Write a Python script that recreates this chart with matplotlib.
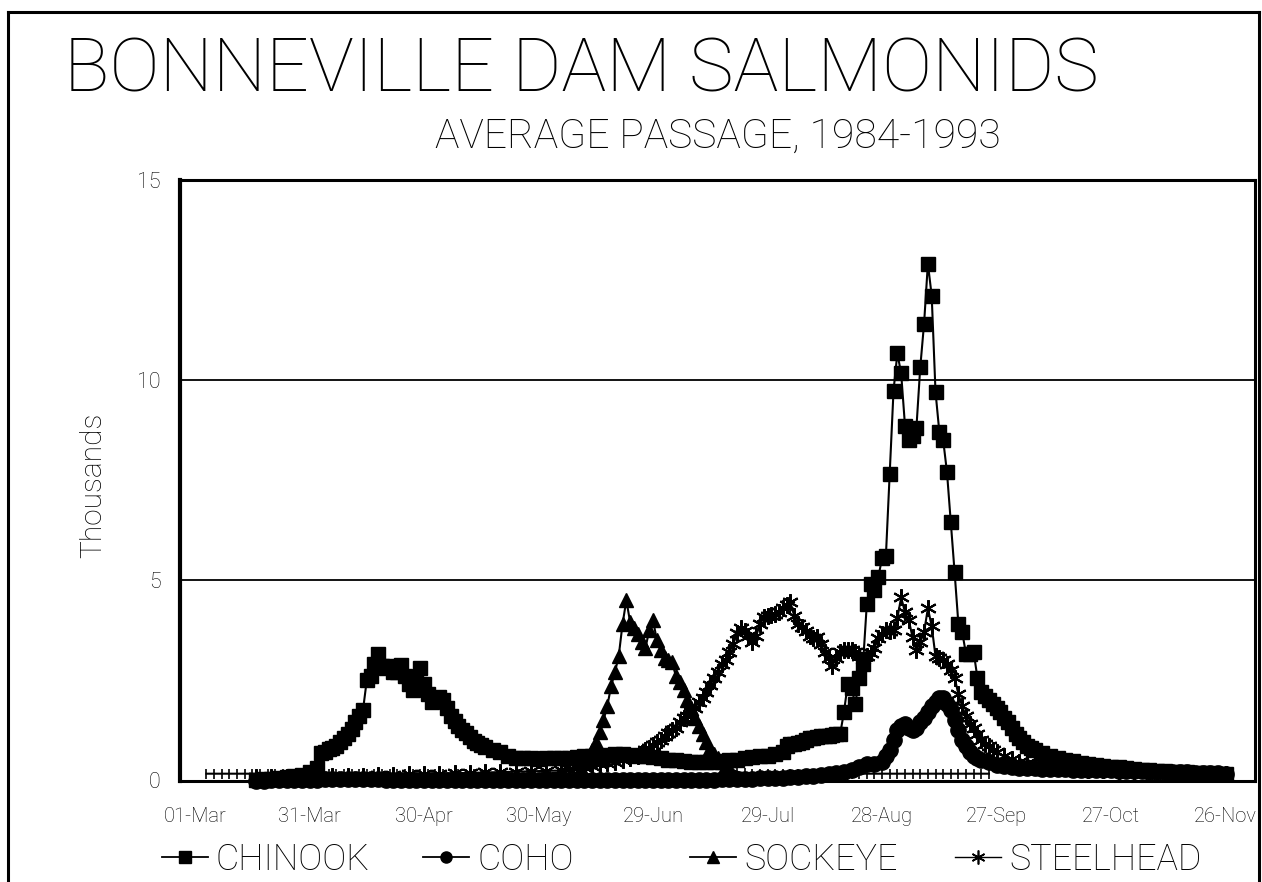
import matplotlib
matplotlib.use("Agg")
import matplotlib.pyplot as plt
from matplotlib.lines import Line2D

# ---------------- data (day 0 = 01-Mar) ----------------
tick_days = [0, 30, 60, 90, 120, 150, 180, 210, 240, 270]
tick_labels = ["01-Mar", "31-Mar", "30-Apr", "30-May", "29-Jun",
               "29-Jul", "28-Aug", "27-Sep", "27-Oct", "26-Nov"]

chinook = [(16,0.02),(18,0.03),(20,0.04),(22,0.06),(24,0.08),(26,0.1),(28,0.13),(30,0.2),
           (32,0.3),(33,0.68),(34,0.72),(35,0.78),(36,0.8),(37,0.85),(38,0.95),(39,1.05),
           (40,1.15),(41,1.28),(42,1.45),(43,1.6),(44,1.75),(45,2.5),(46,2.6),(47,2.9),
           (48,3.15),(49,2.85),(50,2.8),(51,2.85),(52,2.7),(53,2.72),(54,2.88),(55,2.6),
           (56,2.4),(57,2.25),(58,2.55),(59,2.8),(60,2.4),(61,2.15),(62,1.95),(63,2.0),
           (64,2.08),(65,2.0),(66,1.82),(67,1.62),(68,1.48),(69,1.37),(70,1.27),(71,1.18),
           (72,1.08),(73,0.98),(74,0.93),(75,0.88),(76,0.83),(78,0.77),(80,0.7),(82,0.62),
           (84,0.57),(86,0.55),(88,0.55),(90,0.54),(92,0.55),(94,0.55),(96,0.56),(98,0.57),
           (100,0.58),(102,0.6),(104,0.62),(106,0.62),(108,0.64),(110,0.65),(112,0.65),
           (114,0.63),(116,0.62),(118,0.6),(120,0.58),(122,0.55),(124,0.52),(126,0.5),
           (128,0.48),(130,0.46),(132,0.45),(134,0.45),(136,0.46),(138,0.48),(140,0.5),
           (142,0.52),(144,0.55),(146,0.58),(148,0.6),(150,0.62),(152,0.65),(154,0.7),
           (155,0.85),(156,0.9),(157,0.92),(158,0.93),(159,0.95),(160,1.0),(161,1.05),
           (162,1.07),(163,1.08),(164,1.1),(165,1.1),(166,1.12),(167,1.13),(168,1.15),
           (169,1.15),(170,1.7),(171,2.4),(172,2.3),(173,1.9),(174,2.57),(175,2.9),
           (176,4.4),(177,4.9),(178,4.75),(179,5.07),(180,5.55),(181,5.6),(182,7.66),
           (183,9.73),(184,10.66),(185,10.16),(186,8.86),(187,8.49),(188,8.6),(189,8.81),
           (190,10.31),(191,11.4),(192,12.9),(193,12.1),(194,9.7),(195,8.7),(196,8.5),
           (197,7.7),(198,6.45),(199,5.2),(200,3.9),(201,3.7),(202,3.15),(203,3.15),
           (204,3.2),(205,2.55),(206,2.2),(207,2.1),(208,2.0),(209,1.9),(210,1.8),
           (211,1.7),(212,1.55),(213,1.45),(214,1.3),(215,1.15),(216,1.05),(217,0.95),
           (218,0.87),(219,0.8),(220,0.75),(222,0.68),(224,0.62),(226,0.56),(228,0.52),
           (230,0.48),(232,0.43),(234,0.4),(236,0.38),(238,0.36),(240,0.34),(242,0.33),
           (244,0.31),(246,0.29),(248,0.27),(250,0.25),(252,0.24),(254,0.23),(256,0.22),
           (258,0.2),(260,0.2),(262,0.19),(264,0.18),(266,0.18),(268,0.17),(270,0.17)]

coho = [(16,0.0),(18,0.0),(20,0.01),(22,0.01),(24,0.01),(26,0.02),(28,0.02),(30,0.02),
        (32,0.02),(34,0.03),(36,0.03),(38,0.03),(40,0.03),(42,0.03),(44,0.03),(46,0.03),
        (48,0.03),(50,0.02),(52,0.02),(54,0.02),(56,0.02),(58,0.02),(60,0.02),(62,0.02),
        (64,0.02),(66,0.02),(68,0.02),(70,0.02),(72,0.02),(74,0.02),(76,0.02),(78,0.02),
        (80,0.02),(82,0.02),(84,0.02),(86,0.02),(88,0.02),(90,0.02),(92,0.02),(94,0.02),
        (96,0.02),(98,0.02),(100,0.02),(102,0.02),(104,0.02),(106,0.02),(108,0.02),
        (110,0.02),(112,0.02),(114,0.02),(116,0.02),(118,0.02),(120,0.02),(122,0.02),
        (124,0.02),(126,0.02),(128,0.02),(130,0.02),(132,0.02),(134,0.02),(136,0.02),
        (138,0.03),(140,0.03),(142,0.03),(144,0.04),(146,0.04),(148,0.05),(150,0.05),
        (152,0.06),(154,0.07),(156,0.08),(158,0.09),(160,0.1),(162,0.11),(164,0.13),
        (166,0.15),(168,0.18),(170,0.22),(172,0.27),(174,0.33),(176,0.4),(178,0.42),
        (180,0.45),(181,0.6),(182,0.75),(183,1.0),(184,1.25),(185,1.35),(186,1.4),
        (187,1.32),(188,1.25),(189,1.3),(190,1.45),(191,1.55),(192,1.7),(193,1.85),
        (194,1.95),(195,2.05),(196,2.05),(197,1.9),(198,1.75),(199,1.5),(200,1.25),
        (201,1.0),(202,0.85),(203,0.7),(204,0.6),(205,0.55),(206,0.5),(208,0.45),
        (210,0.38),(212,0.35),(214,0.33),(216,0.31),(218,0.3),(220,0.3),(222,0.29),
        (224,0.29),(226,0.28),(228,0.28),(230,0.27),(232,0.27),(234,0.26),(236,0.26),
        (238,0.25),(240,0.25),(242,0.24),(244,0.24),(246,0.23),(248,0.23),(250,0.22),
        (252,0.22),(254,0.21),(256,0.21),(258,0.2),(260,0.2),(262,0.19),(264,0.19),
        (266,0.18),(268,0.18),(270,0.17)]

sockeye = [(3,0.17),(5,0.17),(7,0.17),(9,0.17),(11,0.17),(13,0.17),(15,0.17),(17,0.17),
           (19,0.17),(21,0.17),(23,0.17),(25,0.17),(27,0.17),(29,0.17),(31,0.17),(33,0.17),
           (35,0.17),(37,0.17),(39,0.17),(41,0.17),(43,0.17),(45,0.17),(47,0.17),(49,0.17),
           (51,0.17),(53,0.17),(55,0.17),(57,0.17),(59,0.17),(61,0.17),(63,0.17),(65,0.17),
           (67,0.17),(69,0.17),(71,0.17),(73,0.17),(75,0.17),(77,0.17),(79,0.17),(81,0.17),
           (83,0.17),(85,0.17),(87,0.17),(89,0.17),(91,0.17),(93,0.18),(95,0.2),(97,0.22),
           (99,0.25),(101,0.3),(102,0.45),(103,0.6),(104,0.75),(105,0.95),(106,1.2),
           (107,1.5),(108,1.85),(109,2.35),(110,2.7),(111,3.1),(112,3.9),(113,4.5),
           (114,3.95),(115,3.8),(116,3.65),(117,3.45),(118,3.3),(119,3.75),(120,4.0),
           (121,3.5),(122,3.25),(123,3.05),(124,3.0),(125,2.95),(126,2.6),(127,2.45),
           (128,2.25),(129,2.0),(130,1.8),(131,1.55),(132,1.35),(133,1.17),(134,0.95),
           (135,0.8),(136,0.65),(137,0.55),(138,0.45),(139,0.38),(140,0.3),(142,0.22),
           (144,0.18),(146,0.17),(148,0.17),(150,0.17),(152,0.17),(154,0.17),(156,0.17),
           (158,0.17),(160,0.17),(162,0.17),(164,0.17),(166,0.17),(168,0.17),(170,0.17),
           (172,0.17),(174,0.17),(176,0.17),(178,0.17),(180,0.17),(182,0.17),(184,0.17),
           (186,0.17),(188,0.17),(190,0.17),(192,0.17),(194,0.17),(196,0.17),(198,0.17),
           (200,0.17),(202,0.17),(204,0.17),(206,0.17),(208,0.17)]

steelhead = [(16,0.08),(20,0.08),(24,0.09),(28,0.1),(32,0.1),(36,0.11),(40,0.12),(44,0.12),
             (48,0.13),(52,0.14),(56,0.15),(60,0.16),(64,0.17),(68,0.18),(72,0.19),(76,0.2),
             (80,0.21),(84,0.22),(88,0.23),(92,0.24),(96,0.25),(98,0.28),(100,0.3),(102,0.33),
             (104,0.36),(106,0.4),(108,0.43),(110,0.46),(112,0.5),(114,0.55),(116,0.62),
             (117,0.68),(118,0.75),(119,0.82),(120,0.88),(121,0.95),(122,1.0),(123,1.1),
             (124,1.18),(125,1.25),(126,1.32),(127,1.45),(128,1.55),(129,1.62),(130,1.7),
             (131,1.82),(132,1.95),(133,2.07),(134,2.2),(135,2.38),(136,2.55),(137,2.72),
             (138,2.9),(139,3.0),(140,3.2),(141,3.4),(142,3.67),(143,3.8),(144,3.72),
             (145,3.6),(146,3.45),(147,3.6),(148,3.9),(149,4.07),(150,4.1),(151,4.12),
             (152,4.15),(153,4.2),(154,4.3),(155,4.38),(156,4.45),(157,4.1),(158,3.9),
             (159,3.82),(160,3.72),(161,3.6),(162,3.55),(163,3.57),(164,3.4),(165,3.2),
             (166,3.05),(167,2.87),(168,3.05),(169,3.2),(170,3.25),(171,3.25),(172,3.25),
             (173,3.2),(174,3.1),(175,3.0),(176,3.1),(177,3.17),(178,3.3),(179,3.55),
             (180,3.65),(181,3.75),(182,3.72),(183,3.75),(184,4.05),(185,4.57),(186,4.2),
             (187,4.0),(188,3.57),(189,3.25),(190,3.45),(191,3.7),(192,4.3),(193,3.85),
             (194,3.1),(195,3.05),(196,3.0),(197,2.9),(198,2.75),(199,2.57),(200,2.15),
             (201,1.85),(202,1.6),(203,1.42),(204,1.3),(205,1.15),(206,1.0),(207,0.92),
             (208,0.85),(209,0.75),(210,0.7),(212,0.6),(214,0.53),(216,0.47),(218,0.43),
             (220,0.4),(222,0.37),(224,0.35),(226,0.33),(228,0.31),(230,0.3),(234,0.27),
             (238,0.25),(242,0.23),(246,0.21),(250,0.2),(254,0.19),(258,0.18),(262,0.17),
             (266,0.16),(270,0.15)]

series_names = ["CHINOOK", "COHO", "SOCKEYE", "STEELHEAD"]

# ---------------- layout ----------------
W, H = 1262, 882
fig = plt.figure(figsize=(W / 100, H / 100), dpi=100)
fig.patch.set_facecolor("white")


def fx(px):
    return px / W


def fy(py):
    return 1 - py / H


FAM = ["Roboto", "DejaVu Sans"]
LIGHT = dict(family=FAM, weight="light")

ax = fig.add_axes([fx(180), fy(780.5), fx(1255) - fx(180), fy(179.5) - fy(780.5)])
ax.set_xlim(-3.93, 277.7)
ax.set_ylim(0, 15)
for s in ax.spines.values():
    s.set_linewidth(2.2)
ax.spines["left"].set_linewidth(3.0)
ax.set_yticks([0, 5, 10, 15])
ax.set_yticklabels(["0", "5", "10", "15"])
ax.set_xticks(tick_days)
ax.set_xticklabels(tick_labels)
ax.yaxis.grid(True, color="black", linewidth=1.3)
ax.set_axisbelow(True)
ax.tick_params(axis="both", length=0)
ax.tick_params(axis="x", pad=19)
ax.tick_params(axis="y", pad=14)
for lab in ax.get_xticklabels():
    lab.set_fontfamily(FAM)
    lab.set_fontweight("light")
    lab.set_fontsize(14.5)
for lab in ax.get_yticklabels():
    lab.set_fontfamily(FAM)
    lab.set_fontweight("light")
    lab.set_fontsize(15.5)


def unzip(pairs):
    return [p[0] for p in pairs], [p[1] for p in pairs]


cd, cv = unzip(chinook)
kd, kv = unzip(coho)
sd, sv = unzip(sockeye)
td, tv = unzip(steelhead)

common = dict(color="black", linewidth=1.5, clip_on=False)
ax.plot(kd, kv, marker="o", ms=11, mfc="black", mec="black", zorder=3, **common)
ax.plot(td, tv, marker=(6, 2, 0), ms=12, mec="black", mew=1.5, zorder=4, **common)
ax.plot(cd, cv, marker="s", ms=9.5, mfc="black", mec="black", zorder=5, **common)
# sockeye: line, triangles where visible, small ticks where near zero
ax.plot(sd, sv, zorder=6, **common)
hi = [(d, v) for d, v in sockeye if v >= 0.3]
lo = [(d, v) for d, v in sockeye if v < 0.3]
ax.plot([p[0] for p in hi], [p[1] for p in hi], linestyle="none", marker="^", ms=10,
        mfc="black", mec="black", zorder=6, clip_on=False)
ax.plot([p[0] for p in lo], [p[1] for p in lo], linestyle="none", marker="|", ms=7,
        mec="black", mew=1.2, zorder=6, clip_on=False)

# ---------------- text ----------------
renderer = fig.canvas.get_renderer()


def fit_size(s, target_w, **kw):
    t = fig.text(0, 0, s, fontsize=20, **kw)
    w = t.get_window_extent(renderer).width
    t.remove()
    return 20 * target_w / w


title_kw = dict(family=FAM, weight=100)
ts = fit_size("BONNEVILLE DAM SALMONIDS", 1036, **title_kw)
fig.text(fx(64), fy(92), "BONNEVILLE DAM SALMONIDS", fontsize=ts, ha="left",
         va="baseline", **title_kw)

ss = fit_size("AVERAGE PASSAGE, 1984-1993", 565, **LIGHT)
fig.text(fx(435), fy(148), "AVERAGE PASSAGE, 1984-1993", fontsize=ss, ha="left",
         va="baseline", **LIGHT)

ys = fit_size("Thousands", 145, **LIGHT)
fig.text(fx(93), fy(485), "Thousands", fontsize=ys, rotation=90,
         ha="center", va="center", **LIGHT)

# legend
ls = fit_size("STEELHEAD", 193, **LIGHT)
fs_px = ls * 100 / 72
handles = [
    Line2D([], [], color="black", lw=1.3, marker="s", ms=8, mfc="black"),
    Line2D([], [], color="black", lw=1.3, marker="o", ms=8, mfc="black"),
    Line2D([], [], color="black", lw=1.3, marker="^", ms=8, mfc="black"),
    Line2D([], [], color="black", lw=1.0, marker=(6, 2, 0), ms=10, mew=1.2),
]
leg_x = [162, 423, 690, 955]
for h, name, x0 in zip(handles, series_names, leg_x):
    fig.legend(handles=[h], labels=[name], loc="center left",
               bbox_to_anchor=(fx(x0), fy(860)), frameon=False,
               borderpad=0, borderaxespad=0, handlelength=46 / fs_px,
               handletextpad=8 / fs_px,
               prop=dict(family=FAM, weight="light", size=ls))

# outer frame
for xs, ys_ in [([8, 8], [12, 882]), ([8, 1259], [12, 12]), ([1259, 1259], [12, 882])]:
    fig.add_artist(Line2D([fx(v) for v in xs], [fy(v) for v in ys_],
                          transform=fig.transFigure, color="black", lw=2.2))

fig.savefig("out.png", dpi=100, facecolor="white")
